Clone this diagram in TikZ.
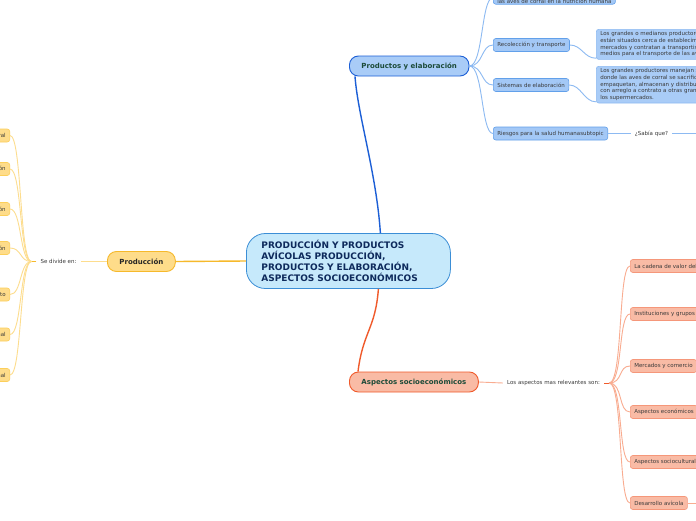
\documentclass[tikz,border=0pt]{standalone}
\usepackage{fontspec}
\setmainfont{DejaVu Sans}
\usepackage{tikz}
\usetikzlibrary{positioning}
\definecolor{rootfill}{HTML}{C6E9FB}
\definecolor{rootdraw}{HTML}{3B8ED6}
\definecolor{roottext}{HTML}{0E2A5C}
\definecolor{topictext}{HTML}{1C4B39}
\definecolor{leaftext}{HTML}{3A3A3A}
\definecolor{bluefill}{HTML}{A9CCF7}
\definecolor{bluedraw}{HTML}{1C5FD6}
\definecolor{blueleaf}{HTML}{A3C8F6}
\definecolor{blueedge}{HTML}{62A0EA}
\definecolor{blueline}{HTML}{8DBAF2}
\definecolor{yelfill}{HTML}{FEDC8A}
\definecolor{yeldraw}{HTML}{F6B92B}
\definecolor{yeledge}{HTML}{FCCF5A}
\definecolor{yelline}{HTML}{FDDD8E}
\definecolor{redfill}{HTML}{F9BBA5}
\definecolor{reddraw}{HTML}{F05A2B}
\definecolor{rededge}{HTML}{F5977A}
\definecolor{redline}{HTML}{F9AC90}

\begin{document}
\begin{tikzpicture}[
    x=1pt, y=-1pt,
    every node/.style={font=\fontsize{5.5}{6.6}\selectfont, text=leaftext},
    root/.style={draw=rootdraw, fill=rootfill, rounded corners=19pt, line width=0.8pt,
                 minimum height=55pt, text width=174pt, inner xsep=15pt, align=left,
                 text=roottext, font=\fontsize{9}{11}\selectfont\bfseries},
    topic/.style={draw, rounded corners=9pt, line width=0.9pt, minimum height=20pt,
                  inner xsep=12pt, font=\fontsize{7}{8}\selectfont\bfseries},
    sub/.style={draw, rounded corners=2.5pt, line width=0.6pt, minimum height=13pt,
                inner xsep=4pt, inner ysep=1pt},
    txt/.style={draw, rounded corners=2.5pt, line width=0.6pt, align=left,
                inner xsep=4pt, inner ysep=2.5pt, anchor=north west},
    lbl/.style={inner xsep=4pt, inner ysep=1pt},
    lnk/.style={line width=0.9pt},
    stem/.style={line width=1.4pt},
]
    \path[use as bounding box, fill=white] (0,0) rectangle (696,520);
    \clip (0,0) rectangle (696,520);

    % Central topic.
    \node[root, anchor=west] (root) at (246,261)
        {PRODUCCIÓN Y PRODUCTOS\\AVÍCOLAS PRODUCCIÓN,\\PRODUCTOS Y ELABORACIÓN,\\ASPECTOS SOCIOECONÓMICOS};

    % Main branches.
    \node[topic, draw=bluedraw, fill=bluefill, text=topictext, anchor=west] (prod) at (349,66) {Productos y elaboración};
    \node[topic, draw=yeldraw, fill=yelfill, text=black!85, anchor=west] (prodn) at (107,261.5) {Producción};
    \node[topic, draw=reddraw, fill=redfill, text=topictext, anchor=west] (asp) at (349,382) {Aspectos socioeconómicos};

    \draw[stem, bluedraw] ([xshift=32pt]root.north) .. controls +(-4,-60) and +(3,40) .. ([xshift=6pt]prod.south west);
    \draw[stem, yeldraw] (root.west) -- (prodn.east);
    \draw[stem, reddraw] ([xshift=30pt]root.south) .. controls +(-3,40) and +(5,-40) .. ([xshift=9pt]asp.north west);

    % Produccion: fan to the left.
    \node[lbl] (divide) at (58.5,261.5) {Se divide en:};
    \draw[lnk, yelline] (prodn.west) -- (divide.east);
    \coordinate (lhub) at ([xshift=-5pt]divide.west);
    \draw[lnk, yeldraw] (divide.west) -- (lhub);

    \node[sub, draw=yeledge, fill=yelfill, anchor=east] (rural) at (10,135.5) {Producción rural};
    \node[sub, draw=yeledge, fill=yelfill, anchor=east] (reprod) at (10,169) {Genética y reproducción};
    \node[sub, draw=yeledge, fill=yelfill, anchor=east] (alim) at (10,209) {Alimentación};
    \node[sub, draw=yeledge, fill=yelfill, anchor=east] (incub) at (10,248) {Incubación};
    \node[sub, draw=yeledge, fill=yelfill, anchor=east] (aloja) at (10,294.5) {Alojamiento};
    \node[sub, draw=yeledge, fill=yelfill, anchor=east] (bien) at (10,334.5) {Bienestar animal};
    \node[sub, draw=yeledge, fill=yelfill, anchor=east] (sanid) at (10,375) {Sanidad animal};

    \draw[lnk, yelline] (lhub) .. controls +(-12,0) and +(12,0) .. (rural.east);
    \draw[lnk, yelline] (lhub) .. controls +(-12,0) and +(12,0) .. (reprod.east);
    \draw[lnk, yelline] (lhub) .. controls +(-12,0) and +(12,0) .. (alim.east);
    \draw[lnk, yelline] (lhub) .. controls +(-12,0) and +(12,0) .. (incub.east);
    \draw[lnk, yelline] (lhub) .. controls +(-12,0) and +(12,0) .. (aloja.east);
    \draw[lnk, yelline] (lhub) .. controls +(-12,0) and +(12,0) .. (bien.east);
    \draw[lnk, yelline] (lhub) .. controls +(-12,0) and +(12,0) .. (sanid.east);

    % Productos y elaboracion: fan to the right.
    \node[sub, draw=blueedge, fill=blueleaf, align=left, anchor=south west] (nutri) at (493,4.5)
        {Contribución de\\las aves de corral en la nutrición humana};
    \node[lbl, anchor=west] (sabia1) at (643,-4) {¿Sabía que?};
    \node[sub, draw=blueedge, fill=blueleaf, anchor=west] (recol) at (493,45) {Recolección y transporte};
    \node[sub, draw=blueedge, fill=blueleaf, anchor=west] (sistem) at (493,85) {Sistemas de elaboración};
    \node[sub, draw=blueedge, fill=blueleaf, anchor=west] (riesgo) at (493,133.5) {Riesgos para la salud humanasubtopic};
    \node[lbl] (sabia2) at (651.5,133.5) {¿Sabía que?};
    \coordinate (sabiaend) at (720,133.5);

    \node[txt, draw=blueline, fill=bluefill] (recoltxt) at (596,29)
        {Los grandes o medianos productores que\\están situados cerca de establecimientos de\\mercados y contratan a transportistas con\\medios para el transporte de las aves.};
    \node[txt, draw=blueline, fill=bluefill] (sistemtxt) at (596,66)
        {Los grandes productores manejan sus propias plantas,\\donde las aves de corral se sacrifican,\\empaquetan, almacenan y distribuyen, o\\con arreglo a contrato a otras grandes empresas o\\los supermercados.};

    \draw[lnk, blueline] (prod.east) .. controls +(14,0) and +(-12,0) .. (nutri.west);
    \draw[lnk, blueline] (prod.east) .. controls +(14,0) and +(-12,0) .. (recol.west);
    \draw[lnk, blueline] (prod.east) .. controls +(14,0) and +(-12,0) .. (sistem.west);
    \draw[lnk, blueline] (prod.east) .. controls +(14,0) and +(-12,0) .. (riesgo.west);
    \draw[lnk, blueline] (nutri.east) -- (sabia1.west);
    \draw[lnk, blueline] (recol.east) .. controls +(12,0) and +(-12,0) .. ([yshift=1.5pt]recoltxt.south west);
    \draw[lnk, blueline] (sistem.east) .. controls +(12,0) and +(-12,0) .. ([yshift=1.5pt]sistemtxt.south west);
    \draw[lnk, blueline] (riesgo.east) -- (sabia2.west);
    \draw[lnk, blueline] (sabia2.east) -- (sabiaend);

    % Aspectos socioeconomicos: fan to the right.
    \node[lbl] (asplbl) at (553.5,383) {Los aspectos mas relevantes son:};
    \draw[lnk, redline] (asp.east) -- (asplbl.west);
    \coordinate (ahub) at ([xshift=5pt]asplbl.east);
    \draw[lnk, reddraw] (asplbl.east) -- (ahub);

    \node[sub, draw=rededge, fill=redfill, anchor=west] (cadena) at (630,266) {La cadena de valor del sector avícola};
    \node[sub, draw=rededge, fill=redfill, anchor=west] (instit) at (630,314) {Instituciones y grupos de interés};
    \node[sub, draw=rededge, fill=redfill, anchor=west] (merc) at (630,366) {Mercados y comercio};
    \node[sub, draw=rededge, fill=redfill, anchor=west] (econ) at (630,412) {Aspectos económicos};
    \node[sub, draw=rededge, fill=redfill, anchor=west] (socio) at (630,462) {Aspectos socioculturales};
    \node[sub, draw=rededge, fill=redfill, anchor=west] (desarr) at (630,503) {Desarrollo avícola};
    \coordinate (desend) at (720,503);

    \draw[lnk, redline] (ahub) .. controls +(14,0) and +(-12,0) .. (cadena.west);
    \draw[lnk, redline] (ahub) .. controls +(14,0) and +(-12,0) .. (instit.west);
    \draw[lnk, redline] (ahub) .. controls +(14,0) and +(-12,0) .. (merc.west);
    \draw[lnk, redline] (ahub) .. controls +(14,0) and +(-12,0) .. (econ.west);
    \draw[lnk, redline] (ahub) .. controls +(14,0) and +(-12,0) .. (socio.west);
    \draw[lnk, redline] (ahub) .. controls +(14,0) and +(-12,0) .. (desarr.west);
    \draw[lnk, redline] (desarr.east) -- (desend);
\end{tikzpicture}
\end{document}
